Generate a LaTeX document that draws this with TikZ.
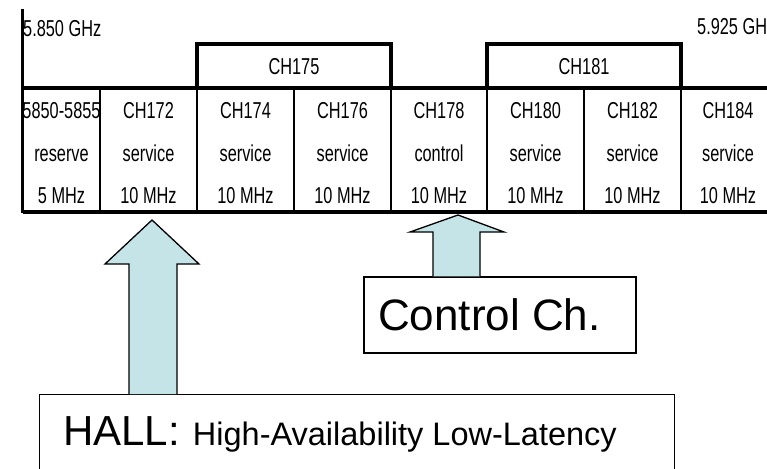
\documentclass[tikz,border=0pt]{standalone}
\usepackage{fontspec}
\setmainfont{Liberation Sans}
\newfontfamily\narrowfont[FakeStretch=0.71]{Liberation Sans}
\definecolor{arrowfill}{RGB}{197,228,232}
\begin{document}
\begin{tikzpicture}[x=1pt,y=-1pt,
  tbl/.style={line width=3.2pt},
  celltext/.style={font=\narrowfont\fontsize{23}{23}\selectfont, anchor=base, inner sep=0pt},
  blockarrow/.style={draw=black, line width=1.3pt, fill=arrowfill, line join=miter},
  labelbox/.style={draw=black, line width=1.3pt, fill=white, inner sep=0pt}]
\useasboundingbox (0,0) rectangle (767,468);
\clip (0,0) rectangle (767,468);
% frequency labels
\node[celltext, anchor=base west] (f1) at (23,37) {5.850 GHz};
\node[celltext, anchor=base west] (f2) at (697,35) {5.925 GH};
% table lines
\coordinate (tl) at (22.5,9);
\coordinate (bl) at (22.5,213);
\draw[line width=2.4pt] (tl) -- (bl);
\draw[tbl] (22.5,88) -- (770,88);
\draw[tbl] (22.5,212) -- (770,212);
\foreach \x in {100,197,294,391,487,584,681} {
  \draw[line width=2.8pt] (\x,88) -- (\x,212);
}
% CH175 and CH181 boxes
\draw[tbl] (197,88) -- (197,44) -- (391,44) -- (391,88);
\draw[tbl] (487,88) -- (487,44) -- (681,44) -- (681,88);
\node[celltext] (ch175) at (294,75) {CH175};
\node[celltext] (ch181) at (584,75) {CH181};
% cells
\foreach \cx/\a/\b/\c/\nm in {
  61.5/5850-5855/reserve/5 MHz/c170,
  148.5/CH172/service/10 MHz/c172,
  245.5/CH174/service/10 MHz/c174,
  342.5/CH176/service/10 MHz/c176,
  439/CH178/control/10 MHz/c178,
  535.5/CH180/service/10 MHz/c180,
  632.5/CH182/service/10 MHz/c182,
  728/CH184/service/10 MHz/c184} {
  \node[celltext] (\nm a) at (\cx,118) {\a};
  \node[celltext] (\nm b) at (\cx,161) {\b};
  \node[celltext] (\nm c) at (\cx,203) {\c};
}
% control box
\node[labelbox, minimum width=272pt, minimum height=76pt] (ctrl) at (500,315) {};
\node[anchor=base west, inner sep=0pt, font=\fontsize{44}{44}\selectfont] (ctrltext) at (378,330) {Control Ch.};
% HALL box
\node[labelbox, minimum width=635pt, minimum height=110pt, anchor=north west] (hall) at (39,394) {};
\node[anchor=base west, inner sep=0pt] (halltext) at (63,445)
  {\fontsize{42}{42}\selectfont HALL:\hspace{13pt}\fontsize{32.5}{32.5}\selectfont High-Availability Low-Latency};
% big arrow from HALL to CH172
\draw[blockarrow] (hall.north -| 129,0) -- (129,264) -- (105,264) -- (152,220) -- (199,264) -- (177,264) -- (hall.north -| 177,0);
% small arrow from Control Ch. to CH178
\draw[blockarrow] (ctrl.north -| 433,0) -- (433,232) -- (410,232) -- (458,215) -- (504,232) -- (480,232) -- (ctrl.north -| 480,0);
\end{tikzpicture}
\end{document}
